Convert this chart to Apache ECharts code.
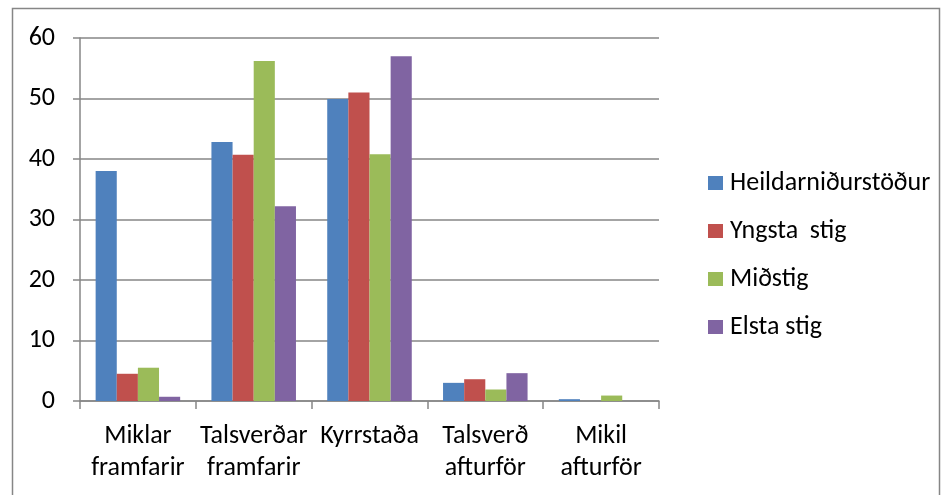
<!DOCTYPE html>
<html>
<head>
<meta charset="utf-8">
<script src="https://cdn.jsdelivr.net/npm/echarts@6/dist/echarts.min.js"></script>
<style>
  html, body { margin: 0; padding: 0; background: #fff; }
  #chart { width: 942px; height: 495px; }
</style>
</head>
<body>
<div id="chart"></div>
<script>
// flokkar og gildi lesin af myndinni
const categories = ['Miklar\nframfarir', 'Talsverðar\nframfarir', 'Kyrrstaða', 'Talsverð\nafturför', 'Mikil\nafturför']
const seriesNames = ['Heildarniðurstöður', 'Yngsta  stig', 'Miðstig', 'Elsta stig']
const heild = [38.0, 42.8, 49.9, 3.0, 0.3]
const yngsta = [4.5, 40.7, 51.0, 3.6, 0]
const midstig = [5.5, 56.2, 40.8, 1.9, 0.9]
const elsta = [0.7, 32.2, 57.0, 4.6, 0]
const colors = ['#4F81BD', '#C0504D', '#9BBB59', '#8064A2']

const font = 'Carlito'
const chart = echarts.init(document.getElementById('chart'))

const values = [heild, yngsta, midstig, elsta]

const option = {
  animation: false,
  textStyle: { fontFamily: font },
  graphic: [{
    type: 'rect',
    shape: { x: 12.5, y: 8.5, width: 927, height: 500 },
    style: { fill: 'none', stroke: '#868686', lineWidth: 1.5 },
    silent: true
  }],
  legend: {
    orient: 'vertical',
    left: 703,
    top: 165,
    itemWidth: 15,
    itemHeight: 14,
    itemGap: 22,
    icon: 'rect',
    textStyle: { fontFamily: font, fontSize: 26, color: '#000', padding: [0, 0, 0, 2] },
    data: seriesNames
  },
  grid: { left: 80, right: 283, top: 38, bottom: 94 },
  xAxis: {
    type: 'category',
    data: categories,
    axisLine: { lineStyle: { color: '#868686', width: 1.5 } },
    axisTick: { show: true, length: 8, lineStyle: { color: '#868686', width: 1.5 } },
    axisLabel: { fontFamily: font, fontSize: 26, color: '#000', lineHeight: 32, margin: 19, interval: 0 }
  },
  yAxis: {
    type: 'value',
    min: 0,
    max: 60,
    interval: 10,
    axisLine: { show: true, lineStyle: { color: '#868686', width: 1.5 } },
    axisTick: { show: true, length: 7, lineStyle: { color: '#868686', width: 1.5 } },
    splitLine: { lineStyle: { color: '#868686', width: 1.5 } },
    axisLabel: { fontFamily: font, fontSize: 26, color: '#000', margin: 25 }
  },
  series: seriesNames.map((name, i) => ({
    name,
    type: 'bar',
    data: values[i],
    barGap: '0%',
    barCategoryGap: '27%',
    itemStyle: { color: colors[i] }
  }))
}

chart.setOption(option)
</script>
</body>
</html>
